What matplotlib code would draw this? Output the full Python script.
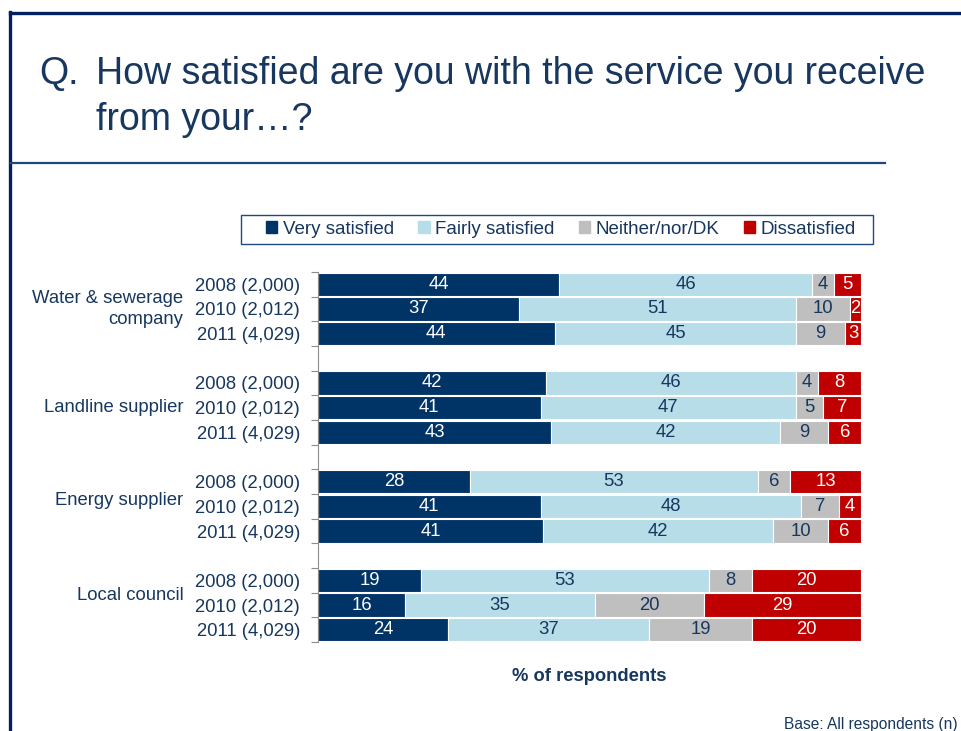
import matplotlib
matplotlib.use("Agg")
import matplotlib.pyplot as plt
from matplotlib.patches import Rectangle
from matplotlib.lines import Line2D
import numpy as np

plt.rcParams['font.family'] = ['Liberation Sans', 'DejaVu Sans']

# Survey data
groups = ["Water & sewerage\ncompany", "Landline supplier", "Energy supplier", "Local council"]
years = ["2008 (2,000)", "2010 (2,012)", "2011 (4,029)"]
series = ["Very satisfied", "Fairly satisfied", "Neither/nor/DK", "Dissatisfied"]

very_satisfied   = [44, 37, 44, 42, 41, 43, 28, 41, 41, 19, 16, 24]
fairly_satisfied = [46, 51, 45, 46, 47, 42, 53, 48, 42, 53, 35, 37]
neither_dk       = [4, 10, 9, 4, 5, 9, 6, 7, 10, 8, 20, 19]
dissatisfied     = [5, 2, 3, 8, 7, 6, 13, 4, 6, 20, 29, 20]

colors = ["#003366", "#B7DDE8", "#BFBFBF", "#C00000"]
text_colors = ["white", "#17375E", "#17375E", "white"]
navy = "#002060"
text_navy = "#17375E"

values = np.array([very_satisfied, fairly_satisfied, neither_dk, dissatisfied], dtype=float)
totals = values.sum(axis=0)
shares = values / totals * 100

# Row slots: three years per group, one empty slot between groups
slots = []
for g in range(len(groups)):
    for y in range(len(years)):
        slots.append(g * 4 + y)
slots = np.array(slots)
group_label_pos = [1.0, 5.0, 8.75, 12.6]

W, H = 961, 731
fig = plt.figure(figsize=(W / 100, H / 100), dpi=100)

def fx(px):
    return px / W

def fy(py):
    return 1 - py / H

# Page frame
fig.add_artist(Line2D([fx(10), fx(10)], [fy(12), fy(731)], color=navy, lw=2.4))
fig.add_artist(Line2D([fx(10), fx(961)], [fy(13), fy(13)], color=navy, lw=2.4))
fig.add_artist(Line2D([fx(10), fx(885)], [fy(163), fy(163)], color="#1F497D", lw=1.6))

# Title
fig.text(fx(39), fy(84), "Q.", fontsize=27, color=text_navy, va="baseline", ha="left")
fig.text(fx(96), fy(84), "How satisfied are you with the service you receive",
         fontsize=27, color=text_navy, va="baseline", ha="left")
fig.text(fx(96), fy(130), "from your\u2026?", fontsize=27, color=text_navy,
         va="baseline", ha="left")

ax = fig.add_axes([fx(318), fy(642), fx(861) - fx(318), fy(272) - fy(642)])

left = np.zeros(len(slots))
for i in range(4):
    ax.barh(slots, shares[i], left=left, height=0.94, color=colors[i],
            edgecolor="white", linewidth=0.8, label=series[i])
    for s, l, w, v in zip(slots, left, shares[i], values[i]):
        ax.text(l + w / 2, s, f"{int(v)}", ha="center", va="center",
                fontsize=13.3, color=text_colors[i])
    left += shares[i]

ax.set_xlim(0, 100)
ax.set_ylim(14.5, -0.5)
ax.set_xticks([])
for sp in ["top", "right", "bottom"]:
    ax.spines[sp].set_visible(False)
ax.spines["left"].set_color("#8C8C8C")
ax.spines["left"].set_linewidth(0.8)

ax.set_yticks(np.arange(-0.5, 15, 1.0))
ax.set_yticklabels([])
ax.tick_params(axis="y", which="major", length=5, color="#8C8C8C", width=0.8)
ax.set_yticks(slots, minor=True)
ax.set_yticklabels(years * len(groups), minor=True, fontsize=13.3, color=text_navy)
ax.tick_params(axis="y", which="minor", length=0, pad=13)

# Group labels
for pos, name in zip(group_label_pos, groups):
    ax.text(-0.248, pos, name, transform=ax.get_yaxis_transform(),
            ha="right", va="center", fontsize=13.3, color=text_navy,
            multialignment="right", linespacing=1.25)

ax.set_xlabel("% of respondents", fontsize=13.2, fontweight="bold",
              color=text_navy, labelpad=19)

# Legend with a separately drawn box
handles = [Rectangle((0, 0), 1, 1, color=c) for c in colors]
leg = fig.legend(handles, series, ncol=4, loc="center",
                 bbox_to_anchor=(fx(561), fy(229.5)), fontsize=13.5,
                 frameon=False, handlelength=0.6,
                 handleheight=0.6, handletextpad=0.3, columnspacing=1.3,
                 borderpad=0.25, labelcolor=text_navy)
fig.add_artist(Rectangle((fx(241), fy(244)), fx(873) - fx(241), fy(215) - fy(244),
                         transform=fig.transFigure, fill=False,
                         edgecolor="#1F497D", linewidth=1.0))

fig.text(fx(784), fy(729), "Base: All respondents (n)", fontsize=11.2,
         color=text_navy, ha="left", va="baseline")

fig.savefig("out.png", dpi=100)
